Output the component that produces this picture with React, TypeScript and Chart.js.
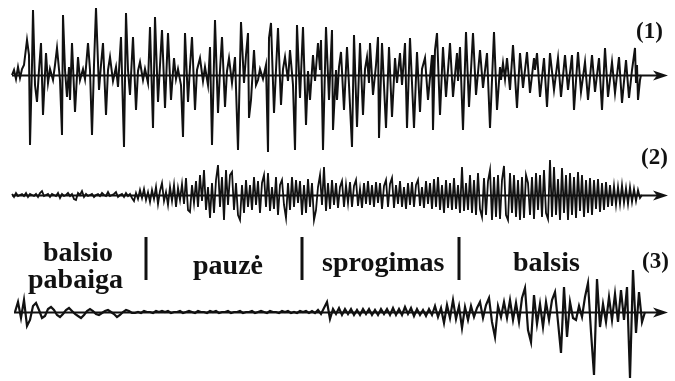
import React, { useEffect, useRef } from "react";
import { Chart, registerables } from "chart.js";

Chart.register(...registerables);

// (1) waveform: [time, amplitude] samples
const wave1: [number, number][] = [
  [12, 0], [14, 5], [16, -4], [18, 8], [20, -3], [22, 6], [24, 10], [27, 35], [29, 20], [30, -70],
  [32, 10], [33, 65], [35, -10], [37, -27], [39, 5], [41, 32], [43, -40], [46, 22], [48, -8], [50, 6],
  [53, -5], [55, 10], [57, 27], [60, -5], [62, -60], [63, 60], [65, 5], [67, -22], [69, 8], [70, -25],
  [72, 32], [75, -37], [78, 18], [80, -5], [83, 6], [85, -4], [88, 32], [90, 5], [92, -60], [94, 10],
  [96, 67], [99, -15], [101, 10], [103, 32], [106, -40], [108, 5], [110, 18], [113, -6], [116, 8], [118, -12],
  [121, 38], [124, -72], [126, 62], [128, 5], [130, -20], [133, 38], [136, -35], [138, 4], [140, 13], [143, -5],
  [145, 6], [148, -8], [150, 48], [153, -53], [155, 58], [158, -27], [160, 10], [162, 45], [165, -33], [168, 42],
  [171, -25], [174, 17], [176, -4], [178, 6], [181, -10], [183, -62], [185, 42], [188, -27], [190, 8], [192, 38],
  [195, -35], [197, 5], [200, 17], [203, -6], [205, 8], [208, -10], [210, 28], [212, -70], [215, 55], [218, -38],
  [220, 5], [222, 38], [225, -32], [227, 4], [229, 17], [232, -8], [235, 18], [238, -75], [241, 53], [244, -8],
  [246, 20], [248, 42], [249, -43], [251, -25], [254, 25], [256, -10], [258, -5], [260, 6], [263, -4], [266, 10],
  [268, -77], [269, 37], [271, 52], [274, -38], [276, 5], [278, 47], [281, -30], [283, 6], [285, 18], [288, -6],
  [290, 25], [293, -10], [295, -75], [297, 50], [300, -23], [303, 48], [306, -50], [308, 4], [310, -25], [313, 20],
  [315, -6], [318, 32], [320, 5], [321, 35], [323, -75], [326, 48], [329, -25], [332, 45], [333, -55], [336, 5],
  [337, -25], [339, 8], [341, 23], [344, -35], [347, 28], [349, -10], [352, -72], [354, 40], [357, -52], [360, 32],
  [363, -40], [365, 6], [367, 18], [369, -8], [370, 32], [373, -20], [376, 10], [378, 38], [379, -63], [382, 32],
  [386, -53], [389, 28], [392, -42], [395, 17], [397, -8], [400, 22], [402, -10], [405, 32], [407, -53], [410, 37],
  [414, -53], [417, 23], [420, -37], [422, 6], [425, 17], [428, -25], [432, 20], [433, -55], [435, 25], [437, 42],
  [440, -40], [443, 28], [446, -22], [450, 32], [453, -22], [457, 22], [458, -6], [460, 28], [463, -55], [466, 43],
  [469, -32], [473, 42], [476, -20], [480, 25], [483, -13], [487, 22], [490, -53], [494, 43], [497, -35], [500, 8],
  [501, -5], [503, 12], [505, -4], [507, 17], [510, -15], [513, 30], [517, -33], [520, 22], [523, -13], [527, 23],
  [530, -18], [534, 17], [535, 5], [537, 22], [540, -22], [544, 17], [547, -32], [550, 22], [554, -15], [558, 17],
  [561, -22], [565, 20], [568, -15], [572, 20], [574, -35], [578, 23], [581, -17], [585, 13], [588, -25], [592, 20],
  [595, -17], [599, 17], [602, -35], [605, 27], [608, -22], [612, 13], [615, -18], [619, 18], [622, -28], [626, 15],
  [629, -23], [632, 5], [635, 27], [636, -8], [637, 10], [638, -25], [640, -5], [641, 0],
];

// (2) waveform: uniformly sampled amplitudes
const wave2Start = 12;
const wave2Step = 2;
const wave2 = [
  1, -2, 2, -1, 0, 1, -1, 2, -2, 1,
  0, -1, 1, -2, 2, 4, -1, 0, 1, -2,
  1, 0, -1, 2, -3, 1, -1, 0, 2, -1,
  1, -4, -5, 2, 0, 4, -2, 1, -1, 0,
  1, -2, 0, 1, -1, 2, 0, -1, 3, -1,
  0, 1, 3, -2, 0, 1, -2, 2, -1, 1,
  -3, -6, 2, -4, 5, -3, 6, -5, 3, -7,
  5, -4, 8, -9, 4, 12, -6, 3, -10, 8,
  -6, 10, -12, 7, -5, 11, -9, 17, -15, -17,
  10, -8, 14, -12, 20, -6, 25, -15, 8, -23,
  12, -18, 15, 30, -12, 18, -25, 25, -10, 20,
  23, -15, 12, -20, -25, 10, -18, 15, -12, 10,
  -15, 18, -10, 14, -18, 12, 20, -12, 22, -16,
  8, -14, 18, -20, 10, 15, -10, -23, 12, -15,
  18, -12, 15, -8, 14, -20, 10, -18, 16, -12,
  12, -25, -15, 8, 20, -10, 28, -16, 12, -14,
  15, -10, 12, -13, 8, 14, -12, 10, -8, 13,
  -12, 9, 15, -11, 6, -13, 12, -9, 14, -10,
  10, -12, 13, -8, 12, -14, 9, 15, -12, 11,
  17, -13, 10, -9, 14, -12, 8, -14, 12, -10,
  13, -12, 10, 15, -11, 8, -13, 14, -9, 12,
  -14, 16, -12, 18, -15, 10, -18, 15, -13, 12,
  -15, 17, -14, 10, -18, 28, -16, 12, -15, 20,
  -18, 15, -20, 22, -14, -22, 17, -20, 14, 25,
  -25, 18, -22, 20, -24, 15, 29, -20, -25, 22,
  -18, 20, -22, 15, -25, 18, -23, 20, 12, -20,
  18, -24, 22, -15, 20, -22, 25, -18, -24, 35,
  -22, 28, -20, 16, -25, 27, -18, 20, -25, 22,
  -20, 18, -23, 23, -16, 20, -22, 15, -18, 17,
  -20, 15, -14, 16, -17, 12, -15, 13, -12, 10,
  -11, 9, -10, 8, -9, 10, -8, 7, -9, 8,
  -7, 6, -6, 5, -3, 0,
];

// (3) waveform: uniformly sampled amplitudes
const wave3Start = 15;
const wave3Step = 3;
const wave3 = [
  0, 10, -6, 12, -14, -8, 6, 9, 2, -6,
  -4, 3, 5, 2, -3, -5, -2, 2, 4, 1,
  -2, -4, -6, -3, 1, 3, 1, -2, -3, -1,
  1, 2, 0, -2, -5, -3, 0, 2, 1, -1,
  -1, 0, -1, 1, 0, 0, -1, 1, 0, 1,
  0, 1, -1, 0, 0, 1, -1, 0, 1, 0,
  -1, 1, 0, 0, -1, 1, 0, 1, -1, 0,
  0, 1, -1, 0, 0, 1, -1, 0, 0, 1,
  -1, 0, 1, 0, -1, 1, 0, 0, -1, 1,
  0, 1, -1, 0, -1, 1, 0, 1, -1, 1,
  -1, 2, -2, 4, 10, -7, 3, -2, 4, -3,
  3, -2, 3, -3, 2, -3, 3, -2, 3, -3,
  2, -3, 3, -2, 3, -3, 4, -3, 3, -3,
  5, -2, 4, -4, 3, -3, 2, -4, 3, -3,
  6, -5, 4, -11, 7, -6, 12, -7, 6, -16,
  5, -8, 6, -5, 4, 10, -6, 7, 14, -10,
  -25, 6, -5, 10, -6, 12, -8, 9, -10, 14,
  24, -18, -30, 17, -12, 8, -15, 10, -8, 12,
  20, -10, -41, 25, -25, 10, -6, -8, 6, -5,
  15, 29, -20, -63, 33, -15, 8, -10, 15, -8,
  18, -10, 22, -8, 25, -66, 42, -21, 20, -10,
  0,
];

const panelLabels = ["(1)", "(2)", "(3)"];
const segmentLabels = [["balsio", "pabaiga"], ["pauzė"], ["sprogimas"], ["balsis"]];
const segmentBounds = [146, 302, 459];

const W = 675;
const H = 381;

const overlay = {
  id: "overlay",
  afterDatasetsDraw(chart: any) {
    const ctx = chart.ctx as CanvasRenderingContext2D;
    const xs = chart.scales.x;
    const axisIds = ["y1", "y2", "y3"];
    const axisStart = [12, 12, 14];
    ctx.save();
    axisIds.forEach((id, i) => {
      const y = Math.round(chart.scales[id].getPixelForValue(0)) + 0.5;
      const x0 = xs.getPixelForValue(axisStart[i]);
      const x1 = xs.getPixelForValue(668);
      ctx.strokeStyle = "#111";
      ctx.lineWidth = 1.8;
      ctx.beginPath();
      ctx.moveTo(x0, y);
      ctx.lineTo(x1 - 8, y);
      ctx.stroke();
      ctx.fillStyle = "#111";
      ctx.beginPath();
      ctx.moveTo(x1, y);
      ctx.lineTo(x1 - 15, y - 5);
      ctx.lineTo(x1 - 11, y);
      ctx.lineTo(x1 - 15, y + 5);
      ctx.closePath();
      ctx.fill();
    });
    ctx.fillStyle = "#111";
    segmentBounds.forEach((b) => {
      const x = xs.getPixelForValue(b);
      ctx.fillRect(Math.round(x) - 1.5, 237, 3, 43);
    });
    ctx.textBaseline = "alphabetic";
    ctx.textAlign = "left";
    ctx.font = 'bold 28px "Liberation Serif", "Times New Roman", serif';
    ctx.fillText(segmentLabels[0][0], 43, 261);
    ctx.fillText(segmentLabels[0][1], 28, 288);
    ctx.fillText(segmentLabels[1][0], 193, 274);
    ctx.fillText(segmentLabels[2][0], 322, 271);
    ctx.fillText(segmentLabels[3][0], 513, 271);
    ctx.font = 'bold 23px "Liberation Serif", "Times New Roman", serif';
    ctx.fillText(panelLabels[0], 636, 38);
    ctx.fillText(panelLabels[1], 641, 164);
    ctx.fillText(panelLabels[2], 642, 268);
    ctx.restore();
  },
};

export default function App() {
  const ref = useRef<HTMLCanvasElement | null>(null);

  useEffect(() => {
    if (!ref.current) return;
    const d1 = wave1.map(([x, y]) => ({ x, y }));
    const d2 = wave2.map((y, i) => ({ x: wave2Start + i * wave2Step, y }));
    const d3 = wave3.map((y, i) => ({ x: wave3Start + i * wave3Step, y }));
    const base = {
      borderColor: "#111",
      pointRadius: 0,
      tension: 0,
      fill: false,
    };
    const chart = new Chart(ref.current, {
      type: "line",
      data: {
        datasets: [
          { ...base, label: "(1)", data: d1, yAxisID: "y1", borderWidth: 2 },
          { ...base, label: "(2)", data: d2, yAxisID: "y2", borderWidth: 1.8 },
          { ...base, label: "(3)", data: d3, yAxisID: "y3", borderWidth: 2.2 },
        ],
      },
      options: {
        animation: false,
        responsive: false,
        devicePixelRatio: 1,
        layout: { padding: 0 },
        plugins: { legend: { display: false }, tooltip: { enabled: false }, title: { display: false } },
        scales: {
          x: { type: "linear", min: 0, max: W, display: false },
          y1: { type: "linear", min: -(H - 75), max: 75, display: false },
          y2: { type: "linear", min: -(H - 195), max: 195, display: false },
          y3: { type: "linear", min: -(H - 312), max: 312, display: false },
        },
      },
      plugins: [overlay],
    });
    return () => chart.destroy();
  }, []);

  return (
    <div style={{ position: "absolute", left: 0, top: 0, width: W, height: H, background: "#fff" }}>
      <canvas ref={ref} width={W} height={H} style={{ width: W, height: H, display: "block" }} />
    </div>
  );
}
